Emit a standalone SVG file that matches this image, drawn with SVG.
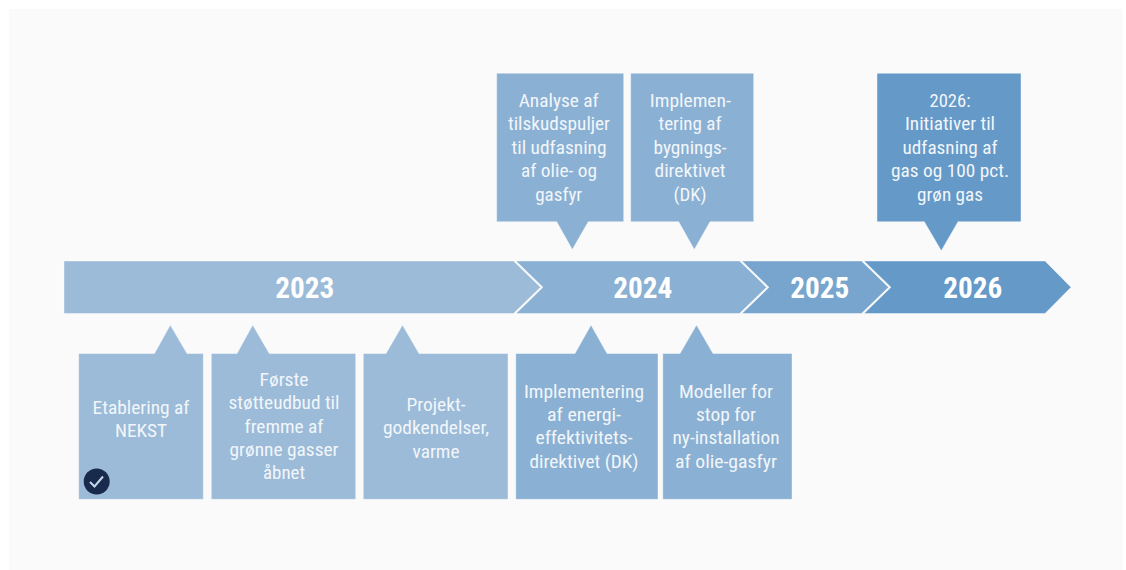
<svg xmlns="http://www.w3.org/2000/svg" width="1126" height="570" viewBox="0 0 1126 570">
<style>
.s{stroke:#fff;stroke-opacity:.4;stroke-width:1}
.a{fill:#9bbbd8}.b{fill:#8ab0d3}.c{fill:#78a5cd}.d{fill:#6599c7}
text{font-family:"Roboto Condensed",Roboto,"Liberation Sans",sans-serif;text-anchor:middle;fill:#fff}
.l{font-size:18.500px;font-stretch:condensed;fill:#f2f6fa}
.y{font-size:29px;font-weight:700;font-stretch:condensed}
</style>
<rect width="1126" height="570" fill="#fff"/>
<rect x="9" y="9" width="1113.500" height="561" fill="#fafafa"/>
<g id="bar">
<g id="y2023"><path class="a s" d="M64 261H513.500L540.500 287.300 513.500 313.500H64Z"/><text class="y" x="304.700" y="298" textLength="59" lengthAdjust="spacingAndGlyphs">2023</text></g>
<g id="y2024"><path class="b s" d="M516 261H739.500L766.500 287.300 739.500 313.500H516L543 287.300Z"/><text class="y" x="642.700" y="298" textLength="59" lengthAdjust="spacingAndGlyphs">2024</text></g>
<g id="y2025"><path class="c s" d="M742 261H861.500L888.500 287.300 861.500 313.500H742L769 287.300Z"/><text class="y" x="819.700" y="298" textLength="59" lengthAdjust="spacingAndGlyphs">2025</text></g>
<g id="y2026"><path class="d s" d="M864 261H1045L1071 287.300 1045 313.500H864L891 287.300Z"/><text class="y" x="972.700" y="298" textLength="59" lengthAdjust="spacingAndGlyphs">2026</text></g>
</g>
<g id="connectors"></g>
<g id="n1"><path class="a s" d="M78.700 353.500H154.500L170.300 325 187 353.500H203.300V499.300H78.700Z"/>
<text class="l" x="141" y="413.500" textLength="97" lengthAdjust="spacingAndGlyphs">Etablering af</text>
<text class="l" x="141" y="437" textLength="52" lengthAdjust="spacingAndGlyphs">NEKST</text>
<circle cx="96.700" cy="481.500" r="13" fill="#182b4d"/><path d="M90 482L94.500 486.500 103 476.500" fill="none" stroke="#c6d8e8" stroke-width="2"/></g>
<g id="n2"><path class="a s" d="M211.300 353.500H237L252.700 325 269.300 353.500H355.700V499.300H211.300Z"/>
<text class="l" x="284" y="385.700" textLength="49" lengthAdjust="spacingAndGlyphs">Første</text>
<text class="l" x="284" y="409.100" textLength="111" lengthAdjust="spacingAndGlyphs">støtteudbud til</text>
<text class="l" x="284" y="432.500" textLength="79" lengthAdjust="spacingAndGlyphs">fremme af</text>
<text class="l" x="284" y="455.900" textLength="109" lengthAdjust="spacingAndGlyphs">grønne gasser</text>
<text class="l" x="284" y="479.300" textLength="42" lengthAdjust="spacingAndGlyphs">åbnet</text></g>
<g id="n3"><path class="a s" d="M363.300 353.500H386L402.500 325 419 353.500H508V499.300H363.300Z"/>
<text class="l" x="436" y="410.800" textLength="59" lengthAdjust="spacingAndGlyphs">Projekt-</text>
<text class="l" x="436" y="434.200" textLength="106" lengthAdjust="spacingAndGlyphs">godkendelser,</text>
<text class="l" x="436" y="457.600" textLength="47" lengthAdjust="spacingAndGlyphs">varme</text></g>
<g id="n4"><path class="b s" d="M515.800 353.500H575L591 325 607 353.500H658V499.300H515.800Z"/>
<text class="l" x="584" y="397.500" textLength="120" lengthAdjust="spacingAndGlyphs">Implementering</text>
<text class="l" x="584" y="420.900" textLength="74" lengthAdjust="spacingAndGlyphs">af energi-</text>
<text class="l" x="584" y="444.300" textLength="97" lengthAdjust="spacingAndGlyphs">effektivitets-</text>
<text class="l" x="584" y="467.700" textLength="109" lengthAdjust="spacingAndGlyphs">direktivet (DK)</text></g>
<g id="n5"><path class="b s" d="M662.800 353.500H680L696.500 325 713 353.500H792V499.300H662.800Z"/>
<text class="l" x="726" y="397.500" textLength="94" lengthAdjust="spacingAndGlyphs">Modeller for</text>
<text class="l" x="726" y="420.900" textLength="60" lengthAdjust="spacingAndGlyphs">stop for</text>
<text class="l" x="726" y="444.300" textLength="107" lengthAdjust="spacingAndGlyphs">ny-installation</text>
<text class="l" x="726" y="467.700" textLength="102" lengthAdjust="spacingAndGlyphs">af olie-gasfyr</text></g>
<g id="n6"><path class="b s" d="M496.700 73.300H623.700V221.700H588.300L572.300 249.500 556.700 221.700H496.700Z"/>
<text class="l" x="558.700" y="107" textLength="80" lengthAdjust="spacingAndGlyphs">Analyse af</text>
<text class="l" x="559" y="130.400" textLength="102" lengthAdjust="spacingAndGlyphs">tilskudspuljer</text>
<text class="l" x="559" y="153.800" textLength="95" lengthAdjust="spacingAndGlyphs">til udfasning</text>
<text class="l" x="559" y="177.200" textLength="76" lengthAdjust="spacingAndGlyphs">af olie- og</text>
<text class="l" x="558.700" y="200.600" textLength="47" lengthAdjust="spacingAndGlyphs">gasfyr</text></g>
<g id="n7"><path class="b s" d="M630.700 73.300H753.700V221.700H710L694.300 249.500 678.700 221.700H630.700Z"/>
<text class="l" x="690.300" y="107" textLength="81" lengthAdjust="spacingAndGlyphs">Implemen-</text>
<text class="l" x="690" y="130.400" textLength="63" lengthAdjust="spacingAndGlyphs">tering af</text>
<text class="l" x="690" y="153.800" textLength="73" lengthAdjust="spacingAndGlyphs">bygnings-</text>
<text class="l" x="690" y="177.200" textLength="71" lengthAdjust="spacingAndGlyphs">direktivet</text>
<text class="l" x="690" y="200.600" textLength="33" lengthAdjust="spacingAndGlyphs">(DK)</text></g>
<g id="n8"><path class="d s" d="M877 73.300H1021V221.700H958L941.300 250.700 924.300 221.700H877Z"/>
<text class="l" x="950" y="107" textLength="41" lengthAdjust="spacingAndGlyphs">2026:</text>
<text class="l" x="950" y="130.400" textLength="90" lengthAdjust="spacingAndGlyphs">Initiativer til</text>
<text class="l" x="950" y="153.800" textLength="95" lengthAdjust="spacingAndGlyphs">udfasning af</text>
<text class="l" x="950" y="177.200" textLength="118" lengthAdjust="spacingAndGlyphs">gas og 100 pct.</text>
<text class="l" x="950" y="200.600" textLength="66" lengthAdjust="spacingAndGlyphs">grøn gas</text></g>
</svg>
